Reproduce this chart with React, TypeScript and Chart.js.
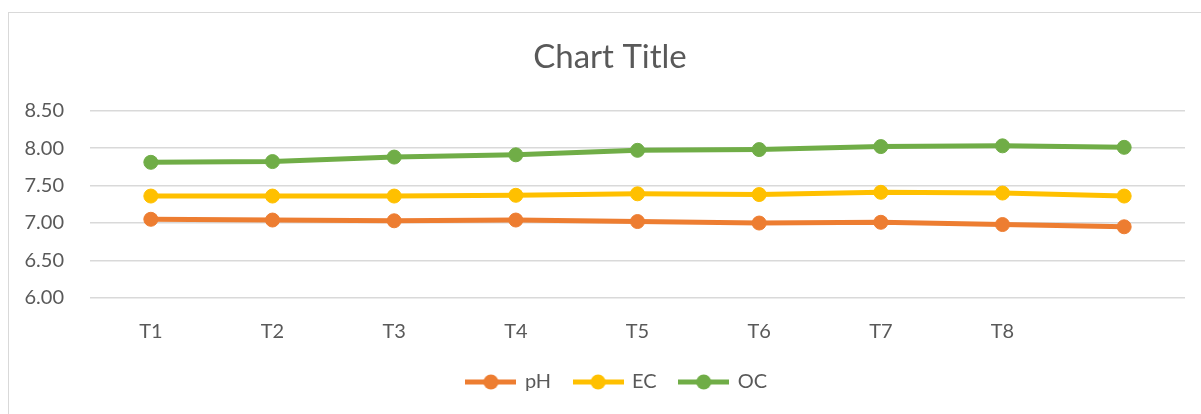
import React, { useEffect, useRef } from "react";
import { Chart, registerables } from "chart.js";

Chart.register(...registerables);

const categories = ["T1", "T2", "T3", "T4", "T5", "T6", "T7", "T8", ""];
const phValues = [7.05, 7.04, 7.03, 7.04, 7.02, 7.0, 7.01, 6.98, 6.95];
const ecValues = [7.36, 7.36, 7.36, 7.37, 7.39, 7.38, 7.41, 7.4, 7.36];
const ocValues = [7.81, 7.82, 7.88, 7.91, 7.97, 7.98, 8.02, 8.03, 8.01];
const yMin = 6;
const yMax = 8.5;
const yStep = 0.5;

const COLORS = { pH: "#ED7D31", EC: "#FFC000", OC: "#70AD47" };
const TEXT = "#595959";
const FONT = "Lato, 'Open Sans', sans-serif";

function legendIcon(color: string): HTMLCanvasElement {
  const c = document.createElement("canvas");
  c.width = 51;
  c.height = 16;
  const ctx = c.getContext("2d")!;
  ctx.strokeStyle = color;
  ctx.lineWidth = 5;
  ctx.beginPath();
  ctx.moveTo(0, 8);
  ctx.lineTo(51, 8);
  ctx.stroke();
  ctx.fillStyle = color;
  ctx.beginPath();
  ctx.arc(25.5, 8, 7.5, 0, Math.PI * 2);
  ctx.fill();
  return c;
}

const legendShift = {
  id: "legendShift",
  afterLayout(chart: any) {
    if (chart.legend) {
      chart.legend.left += 7;
      chart.legend.right += 7;
    }
  },
};

export default function App() {
  const ref = useRef<HTMLCanvasElement | null>(null);

  useEffect(() => {
    document.documentElement.style.overflow = "hidden";
    document.body.style.overflow = "hidden";
    if (!ref.current) return;
    const mk = (label: string, data: number[], color: string) => ({
      label,
      data,
      borderColor: color,
      backgroundColor: color,
      borderWidth: 5,
      borderCapStyle: "round" as const,
      borderJoinStyle: "round" as const,
      pointRadius: 7,
      pointBorderWidth: 1,
      pointBorderColor: color,
      pointBackgroundColor: color,
      pointStyle: "circle" as const,
      tension: 0,
    });
    const icons: Record<string, HTMLCanvasElement> = {
      pH: legendIcon(COLORS.pH),
      EC: legendIcon(COLORS.EC),
      OC: legendIcon(COLORS.OC),
    };
    const chart = new Chart(ref.current, {
      type: "line",
      data: {
        labels: categories,
        datasets: [
          mk("pH", phValues, COLORS.pH),
          mk("EC", ecValues, COLORS.EC),
          mk("OC", ocValues, COLORS.OC),
        ],
      },
      plugins: [legendShift],
      options: {
        responsive: false,
        animation: false,
        layout: { padding: { top: 0, left: 0, right: 0, bottom: 12 } },
        plugins: {
          title: {
            display: true,
            text: "Chart Title",
            color: TEXT,
            font: { family: FONT, size: 33, weight: "normal" },
            padding: { top: 25, bottom: 33 },
          },
          legend: {
            display: true,
            position: "bottom",
            labels: {
              usePointStyle: true,
              pointStyleWidth: 48,
              padding: 23,
              color: TEXT,
              font: { family: FONT, size: 20 },
              generateLabels: (c: any) => {
                const items = Chart.defaults.plugins.legend.labels.generateLabels(c);
                return items.map((it: any) => ({ ...it, pointStyle: icons[it.text] }));
              },
            },
          },
          tooltip: { enabled: false },
        },
        scales: {
          x: {
            type: "category",
            offset: true,
            grid: { display: false, drawTicks: false },
            border: { display: false },
            ticks: { color: TEXT, font: { family: FONT, size: 20 }, padding: 22, maxRotation: 0 },
            afterFit: (s: any) => {
              s.height = 51;
            },
          },
          y: {
            type: "linear",
            position: "left",
            min: yMin,
            max: yMax,
            grid: { color: "#d9d9d9", lineWidth: 1.5, drawTicks: false },
            border: { display: false },
            ticks: {
              stepSize: yStep,
              color: TEXT,
              font: { family: FONT, size: 20 },
              padding: 26,
              callback: (v: any) => Number(v).toFixed(2),
            },
            afterFit: (s: any) => {
              s.width = 81;
            },
          },
          y2: {
            type: "linear",
            position: "right",
            min: 0,
            max: 1,
            grid: { display: false, drawTicks: false },
            border: { display: false },
            ticks: { display: false },
            afterFit: (s: any) => {
              s.width = 26;
            },
          },
        },
      },
    });
    return () => chart.destroy();
  }, []);

  return (
    <div
      style={{
        position: "absolute",
        left: 8,
        top: 12,
        width: 1300,
        height: 500,
        border: "1px solid #d9d9d9",
        boxSizing: "border-box",
        background: "#fff",
      }}
    >
      <canvas
        ref={ref}
        width={1202}
        height={401}
        style={{ position: "absolute", left: 0, top: 0, width: 1202, height: 401 }}
      />
    </div>
  );
}
